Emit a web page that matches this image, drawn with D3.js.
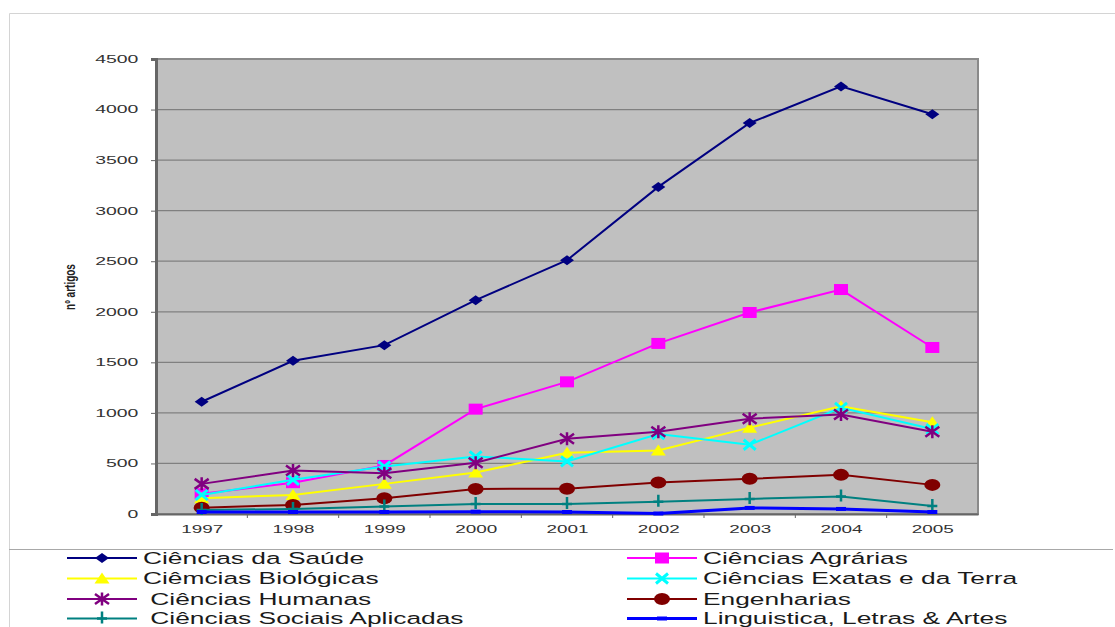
<!DOCTYPE html>
<html>
<head>
<meta charset="utf-8">
<title>nº artigos por área</title>
<script src="https://cdnjs.cloudflare.com/ajax/libs/d3/7.8.5/d3.min.js"></script>
<style>
body { margin: 0; background: #fff; }
svg { display: block; font-family: "Liberation Sans", Arial, sans-serif; }
.tick text { fill: #333; }
</style>
</head>
<body>
<div id="chart"></div>
<script>
// data
var years = ["1997", "1998", "1999", "2000", "2001", "2002", "2003", "2004", "2005"];
var yTicks = [0, 500, 1000, 1500, 2000, 2500, 3000, 3500, 4000, 4500];

var saude      = [1110, 1515, 1670, 2115, 2510, 3235, 3867, 4229, 3953];
var agrarias   = [200, 310, 480, 1037, 1307, 1687, 1993, 2220, 1647];
var biologicas = [156, 189, 298, 410, 605, 629, 854, 1066, 907];
var exatas     = [189, 338, 470, 569, 520, 790, 685, 1050, 840];
var humanas    = [298, 430, 404, 506, 745, 814, 943, 983, 814];
var engenharias= [63, 89, 156, 248, 250, 311, 348, 387, 288];
var sociais    = [40, 50, 73, 100, 100, 122, 149, 172, 80];
var linguistica= [20, 20, 20, 23, 20, 5, 60, 50, 20];

var names = ["Ciências da Saúde", "Ciências Agrárias", "Ciêmcias Biológicas", "Ciências Exatas e da Terra",
  " Ciências Humanas", "Engenharias", " Ciências Sociais Aplicadas", "Linguistica, Letras & Artes"];

var series = [
  {name: names[0], values: saude,       color: "#000080", mark: "diamond"},
  {name: names[1], values: agrarias,    color: "#FF00FF", mark: "square"},
  {name: names[2], values: biologicas,  color: "#FFFF00", mark: "triangle"},
  {name: names[3], values: exatas,      color: "#00FFFF", mark: "x"},
  {name: names[4], values: humanas,     color: "#800080", mark: "star"},
  {name: names[5], values: engenharias, color: "#800000", mark: "circle"},
  {name: names[6], values: sociais,     color: "#008080", mark: "plus"},
  {name: names[7], values: linguistica, color: "#0000FF", mark: "dash"}
];

var width = 1115, height = 627;
var plot = {left: 156, right: 978, top: 59, bottom: 514};

var svg = d3.select("#chart").append("svg")
  .attr("width", width)
  .attr("height", height);

// outer chart frame
svg.append("path")
  .attr("d", "M9.5," + (height + 2) + "V13.5H" + (width + 2))
  .attr("fill", "none")
  .attr("stroke", "#d4d4d4");

var x = d3.scalePoint().domain(years).range([plot.left, plot.right]).padding(0.5);
var y = d3.scaleLinear().domain([0, 4500]).range([plot.bottom, plot.top]);

// plot area
svg.append("rect")
  .attr("x", plot.left).attr("y", plot.top)
  .attr("width", plot.right - plot.left).attr("height", plot.bottom - plot.top)
  .attr("fill", "#C0C0C0")
  .attr("stroke", "#8a8a8a")
  .attr("stroke-width", 2);

svg.append("g").selectAll("line")
  .data(yTicks.slice(1, -1))
  .enter().append("line")
  .attr("x1", plot.left).attr("x2", plot.right)
  .attr("y1", function(d){ return y(d); })
  .attr("y2", function(d){ return y(d); })
  .attr("stroke", "#808080")
  .attr("stroke-width", 1.2);

// y axis
var yAxis = svg.append("g")
  .attr("transform", "translate(" + plot.left + ",0)")
  .call(d3.axisLeft(y).tickValues(yTicks).tickFormat(d3.format("d")).tickSize(5).tickPadding(0));
yAxis.select(".domain").attr("stroke", "#666").attr("stroke-width", 3);
yAxis.selectAll(".tick line").attr("stroke", "#666");
yAxis.selectAll(".tick text")
  .attr("x", -9.5)
  .attr("font-size", "10.5px")
  .attr("font-family", "Liberation Sans, Arial, sans-serif")
  .attr("transform", "scale(1.85,1)");

// x axis (labels stretched like the source image)
var xAxis = svg.append("g")
  .attr("transform", "translate(0," + plot.bottom + ")")
  .call(d3.axisBottom(x).tickSize(0).tickPadding(12));
xAxis.select(".domain").attr("stroke", "#666").attr("stroke-width", 2);
xAxis.selectAll(".tick text")
  .attr("font-size", "10.5px")
  .attr("font-family", "Liberation Sans, Arial, sans-serif")
  .attr("transform", "scale(1.8,1)");

// tick marks between categories
var step = x.step();
svg.append("g").selectAll("line")
  .data(years.slice(1))
  .enter().append("line")
  .attr("x1", function(d){ return x(d) - step / 2; })
  .attr("x2", function(d){ return x(d) - step / 2; })
  .attr("y1", plot.bottom).attr("y2", plot.bottom + 4)
  .attr("stroke", "#666");

// y axis title
svg.append("text")
  .attr("transform", "translate(75,287) scale(1.4,1) rotate(-90)")
  .attr("text-anchor", "middle")
  .attr("font-size", "10px")
  .attr("font-weight", "bold")
  .attr("fill", "#222")
  .text("nº artigos");

// markers
function drawMark(g, type, color) {
  if (type === "diamond") {
    g.append("path").attr("d", "M0,-5L7,0L0,5L-7,0Z").attr("fill", color);
  } else if (type === "square") {
    g.append("rect").attr("x", -7).attr("y", -5.5).attr("width", 14).attr("height", 11).attr("fill", color);
  } else if (type === "triangle") {
    g.append("path").attr("d", "M0,-6L7.5,5L-7.5,5Z").attr("fill", color);
  } else if (type === "x") {
    g.append("path").attr("d", "M-6,-5L6,5M-6,5L6,-5").attr("stroke", color).attr("stroke-width", 3).attr("fill", "none");
  } else if (type === "star") {
    g.append("path").attr("d", "M-7,-5L7,5M-7,5L7,-5M0,-6.5L0,6.5").attr("stroke", color).attr("stroke-width", 2.5).attr("fill", "none");
  } else if (type === "circle") {
    g.append("ellipse").attr("rx", 8).attr("ry", 6).attr("fill", color);
  } else if (type === "plus") {
    g.append("path").attr("d", "M-5,0L5,0M0,-7L0,5").attr("stroke", color).attr("stroke-width", 2.5).attr("fill", "none");
  } else if (type === "dash") {
    g.append("path").attr("d", "M-5,0L5,0").attr("stroke", color).attr("stroke-width", 4).attr("fill", "none");
  }
}

var line = d3.line()
  .x(function(d, i){ return x(years[i]); })
  .y(function(d){ return y(d); });

series.forEach(function(s) {
  var g = svg.append("g");
  g.append("path")
    .attr("d", line(s.values))
    .attr("fill", "none")
    .attr("stroke", s.color)
    .attr("stroke-width", s.mark === "dash" ? 3 : 2);
  s.values.forEach(function(v, i) {
    drawMark(g.append("g").attr("transform", "translate(" + x(years[i]) + "," + y(v) + ")"), s.mark, s.color);
  });
});

// legend
svg.append("line")
  .attr("x1", 9).attr("x2", 1113)
  .attr("y1", 549.5).attr("y2", 549.5)
  .attr("stroke", "#a8a8a8");

var legendCols = [67, 627];
var legendRows = [558, 578.5, 599, 618.5];
series.forEach(function(s, i) {
  var lx = legendCols[i % 2], ly = legendRows[Math.floor(i / 2)];
  var g = svg.append("g").attr("transform", "translate(" + lx + "," + ly + ")");
  g.append("line").attr("x1", 0).attr("x2", 70).attr("y1", 0).attr("y2", 0)
    .attr("stroke", s.color).attr("stroke-width", s.mark === "dash" ? 3 : 2);
  drawMark(g.append("g").attr("transform", "translate(35,0)"), s.mark, s.color);
  g.append("text")
    .attr("transform", "translate(76,5.5) scale(1.55,1)")
    .attr("font-size", "17px")
    .attr("fill", "#1a1a1a")
    .attr("xml:space", "preserve")
    .style("white-space", "pre")
    .text(s.name);
});
</script>
</body>
</html>
